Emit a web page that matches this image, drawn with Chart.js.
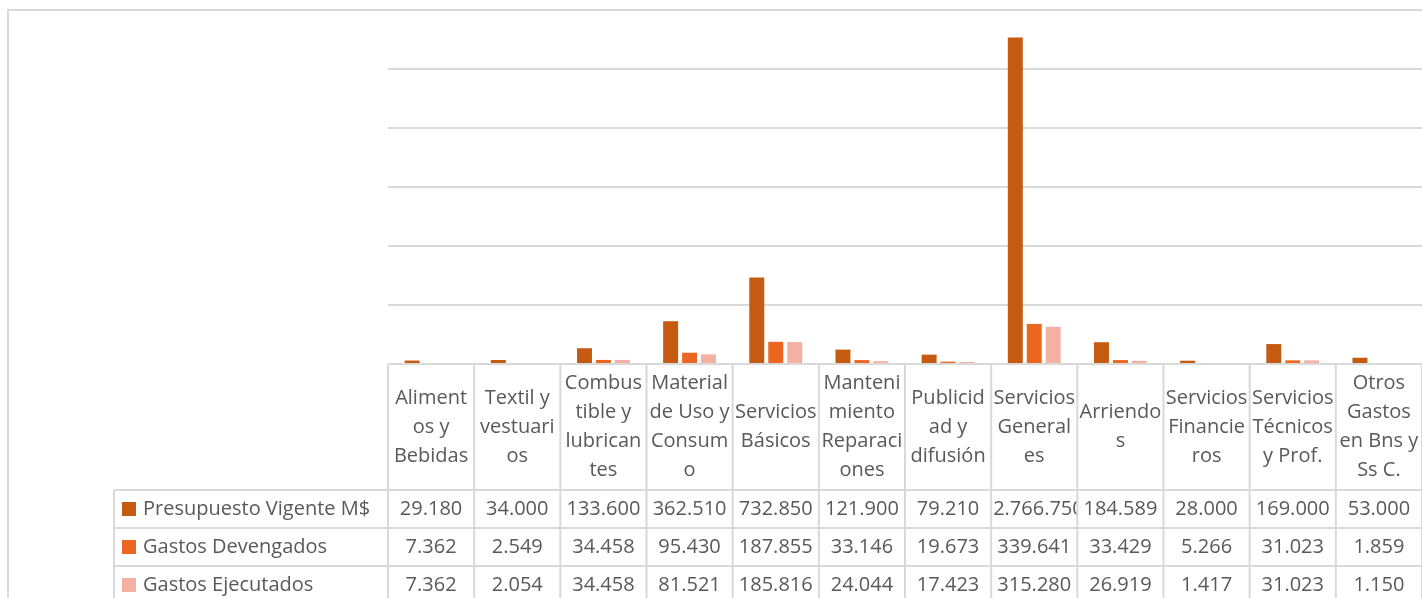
<!DOCTYPE html>
<html>
<head>
<meta charset="utf-8">
<script src="https://cdn.jsdelivr.net/npm/chart.js@4"></script>
<style>
  body { margin: 0; background: #fff; }
  #wrap { width: 1422px; height: 598px; }
</style>
</head>
<body>
<div id="wrap"><canvas id="budget__chart" width="1422" height="598"></canvas></div>
<script>
// category labels, wrapped the same way as the original table header
const categories = [
  ['Aliment', 'os y', 'Bebidas'],
  ['Textil y', 'vestuari', 'os'],
  ['Combus', 'tible y', 'lubrican', 'tes'],
  ['Material', 'de Uso y', 'Consum', 'o'],
  ['Servicios', 'Básicos'],
  ['Manteni', 'miento', 'Reparaci', 'ones'],
  ['Publicid', 'ad y', 'difusión'],
  ['Servicios', 'General', 'es'],
  ['Arriendo', 's'],
  ['Servicios', 'Financie', 'ros'],
  ['Servicios', 'Técnicos', 'y Prof.'],
  ['Otros', 'Gastos', 'en Bns y', 'Ss C.']
];

const seriesNames = ['Presupuesto Vigente M$', 'Gastos Devengados', 'Gastos Ejecutados'];
const seriesColors = ['#C55A11', '#EB6620', '#F4B1A3'];

const presupuesto = [29180, 34000, 133600, 362510, 732850, 121900, 79210, 2766750, 184589, 28000, 169000, 53000];
const devengados = [7362, 2549, 34458, 95430, 187855, 33146, 19673, 339641, 33429, 5266, 31023, 1859];
const ejecutados = [7362, 2054, 34458, 81521, 185816, 24044, 17423, 315280, 26919, 1417, 31023, 1150];

const allSeries = [presupuesto, devengados, ejecutados];

// thousands separator with dots
function fmt(v) {
  return String(v).replace(/\B(?=(\d{3})+(?!\d))/g, '.');
}

const FONT = '20px "Open Sans", Lato, sans-serif';
const TEXT = '#595959';
const LINE = '#D9D9D9';

// draws the outer border, header labels and the data table under the plot
const dataTablePlugin = {
  id: 'dataTable',
  beforeDraw(chart) {
    const ctx = chart.ctx;
    ctx.save();
    ctx.strokeStyle = LINE;
    ctx.lineWidth = 2;
    ctx.beginPath();
    ctx.moveTo(8, chart.height);
    ctx.lineTo(8, 10);
    ctx.lineTo(chart.width, 10);
    ctx.stroke();
    ctx.restore();
  },
  afterDraw(chart) {
    const ctx = chart.ctx;
    const xs = chart.scales.x;
    const area = chart.chartArea;
    const half = (xs.getPixelForValue(1) - xs.getPixelForValue(0)) / 2;
    const top = area.bottom;
    const headerBottom = top + 126;
    const rowH = 38;
    const legendLeft = 114;
    const bottom = chart.height + 10;

    ctx.save();
    ctx.strokeStyle = LINE;
    ctx.lineWidth = 2;
    ctx.beginPath();
    // axis line / header top
    ctx.moveTo(area.left, top);
    ctx.lineTo(area.right, top);
    // row lines
    for (let r = 0; r <= allSeries.length; r++) {
      const y = headerBottom + r * rowH;
      ctx.moveTo(legendLeft, y);
      ctx.lineTo(area.right, y);
    }
    // vertical lines
    ctx.moveTo(legendLeft, headerBottom);
    ctx.lineTo(legendLeft, bottom);
    for (let i = 0; i <= categories.length; i++) {
      const x = xs.getPixelForValue(i) - half;
      ctx.moveTo(x, top);
      ctx.lineTo(x, bottom);
    }
    ctx.stroke();

    ctx.font = FONT;
    ctx.fillStyle = TEXT;
    ctx.textBaseline = 'middle';

    // header labels
    const lh = 29;
    const midY = (top + headerBottom) / 2;
    ctx.textAlign = 'center';
    categories.forEach((lines, i) => {
      const cx = xs.getPixelForValue(i);
      const y0 = midY - (lines.length - 1) * lh / 2;
      lines.forEach((t, k) => ctx.fillText(t, cx, y0 + k * lh));
    });

    // legend keys + values
    allSeries.forEach((vals, r) => {
      const cy = headerBottom + r * rowH + rowH / 2;
      ctx.fillStyle = seriesColors[r];
      ctx.fillRect(122, cy - 7, 14, 14);
      ctx.fillStyle = TEXT;
      ctx.textAlign = 'left';
      ctx.fillText(seriesNames[r], 143, cy);
      vals.forEach((v, i) => {
        const cx = xs.getPixelForValue(i);
        const s = fmt(v);
        const w = ctx.measureText(s).width;
        ctx.save();
        ctx.beginPath();
        ctx.rect(cx - half + 1, cy - rowH / 2, half * 2 - 2, rowH);
        ctx.clip();
        if (w > half * 2 - 4) {
          ctx.textAlign = 'left';
          ctx.fillText(s, cx - half + 2, cy);
        } else {
          ctx.textAlign = 'center';
          ctx.fillText(s, cx, cy);
        }
        ctx.restore();
      });
    });
    ctx.restore();
  }
};

const ctx = document.getElementById('budget__chart').getContext('2d');
const budgetChart = new Chart(ctx, {
  type: 'bar',
  data: {
    labels: categories,
    datasets: allSeries.map((vals, r) => ({
      label: seriesNames[r],
      data: vals,
      backgroundColor: seriesColors[r],
      categoryPercentage: 0.66,
      barPercentage: 0.79
    }))
  },
  options: {
    responsive: false,
    animation: false,
    layout: {
      padding: { left: 388, top: 10, right: 0, bottom: 234 }
    },
    plugins: {
      legend: { display: false },
      tooltip: { enabled: false }
    },
    scales: {
      x: {
        display: false
      },
      y: {
        min: 0,
        max: 3000000,
        ticks: { stepSize: 500000, display: false },
        border: { display: false },
        grid: { color: LINE, lineWidth: 2, drawTicks: false },
        afterFit: (scale) => { scale.width = 0; }
      }
    }
  },
  plugins: [dataTablePlugin]
});
</script>
</body>
</html>
